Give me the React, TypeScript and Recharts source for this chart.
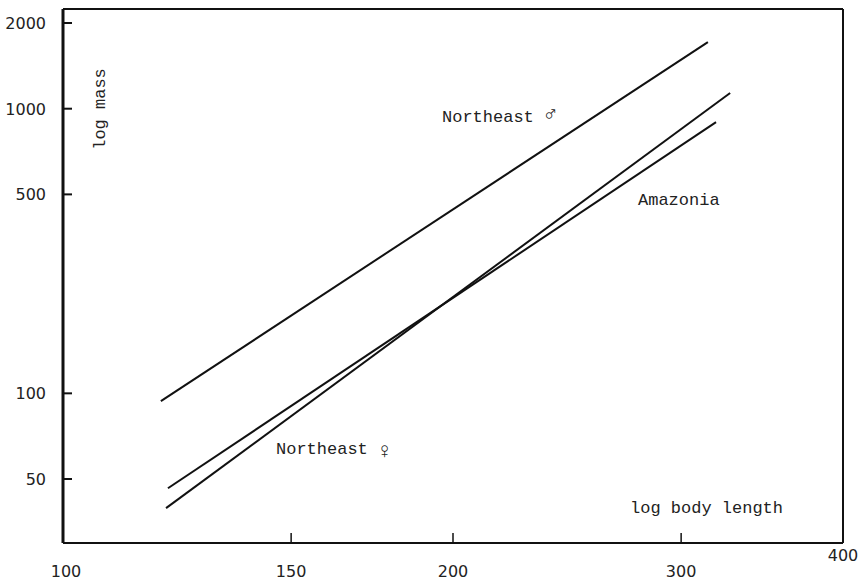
import React from "react";
import { LineChart, Line, XAxis, YAxis, ReferenceLine } from "recharts";

// log-log regression lines (two end points each)
const northeastMale = [
  { length: 119.0, mass: 93.9 },
  { length: 314.6, mass: 1714 },
];
const amazonia = [
  { length: 120.5, mass: 46.4 },
  { length: 319.2, mass: 897 },
];
const northeastFemale = [
  { length: 120.1, mass: 39.5 },
  { length: 327.3, mass: 1135 },
];

const xTicks = [100, 150, 200, 300, 400];
const xMarked = [150, 200, 300];
const yTicks = [50, 100, 500, 1000, 2000];
const xDomain = [100, 400];
const yDomain = [29.8, 2240];

const W = 865;
const H = 584;
const tickFont = "'DejaVu Sans', sans-serif";
const noteFont = "'Liberation Mono', monospace";

const XTick = (props: any) => {
  const { x, y, payload } = props;
  const v = payload.value;
  return (
    <g>
      {xMarked.includes(v) && (
        <line x1={x} y1={y} x2={x} y2={y - 10} stroke="#111" strokeWidth={1.5} />
      )}
      <text
        x={x + (v === 100 ? 3 : 0)}
        y={v === 400 ? y + 18 : y + 34}
        textAnchor="middle"
        fontFamily={tickFont}
        fontSize={16}
        fill="#222"
      >
        {v}
      </text>
    </g>
  );
};

const YTick = (props: any) => {
  const { x, y, payload } = props;
  return (
    <g>
      <line x1={x} y1={y} x2={x + 9} y2={y} stroke="#111" strokeWidth={2} />
      <text
        x={x - 17}
        y={y + 6}
        textAnchor="end"
        fontFamily={tickFont}
        fontSize={16}
        fill="#222"
      >
        {payload.value}
      </text>
    </g>
  );
};

export default function App() {
  return (
    <div style={{ position: "relative", width: W, height: H, background: "#fff" }}>
      <style>{`body{margin:0;background:#fff}`}</style>
      <LineChart width={W} height={H} margin={{ top: 9, right: 22, bottom: 0, left: 0 }}>
        <XAxis
          dataKey="length"
          type="number"
          scale="log"
          domain={xDomain}
          ticks={xTicks}
          allowDataOverflow
          height={41}
          tickSize={0}
          tickMargin={0}
          tickLine={false}
          tick={<XTick />}
          axisLine={{ stroke: "#111", strokeWidth: 2 }}
          interval={0}
        />
        <YAxis
          dataKey="mass"
          type="number"
          scale="log"
          domain={yDomain}
          ticks={yTicks}
          allowDataOverflow
          width={63}
          tickSize={0}
          tickMargin={0}
          tickLine={false}
          tick={<YTick />}
          axisLine={{ stroke: "#111", strokeWidth: 3 }}
          interval={0}
        />
        <ReferenceLine y={yDomain[1]} stroke="#111" strokeWidth={2} />
        <ReferenceLine x={xDomain[1]} stroke="#111" strokeWidth={2} />
        <Line data={northeastMale} dataKey="mass" stroke="#111" strokeWidth={2} dot={false} isAnimationActive={false} />
        <Line data={amazonia} dataKey="mass" stroke="#111" strokeWidth={2} dot={false} isAnimationActive={false} />
        <Line data={northeastFemale} dataKey="mass" stroke="#111" strokeWidth={2} dot={false} isAnimationActive={false} />
      </LineChart>
      <svg
        width={W}
        height={H}
        style={{ position: "absolute", left: 0, top: 0, pointerEvents: "none" }}
      >
        <g fontFamily={noteFont} fontSize={17} fill="#222">
          <text x={100} y={109} transform="rotate(-90 100 109)" textAnchor="middle" dominantBaseline="central">
            log mass
          </text>
          <text x={442} y={122}>
            Northeast <tspan fontSize={22} fontWeight="bold" dy={-2}>♂</tspan>
          </text>
          <text x={638} y={205}>Amazonia</text>
          <text x={276} y={454}>
            Northeast <tspan fontSize={22} dy={4}>♀</tspan>
          </text>
          <text x={630} y={513}>log body length</text>
        </g>
      </svg>
    </div>
  );
}
